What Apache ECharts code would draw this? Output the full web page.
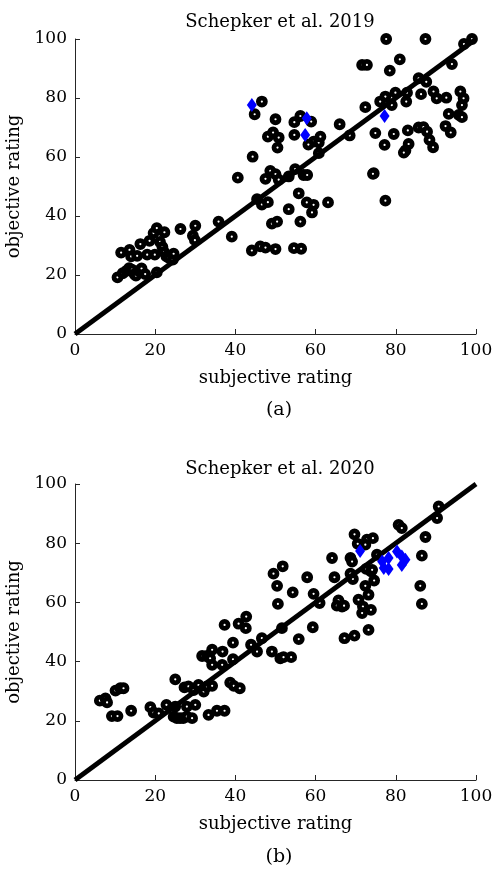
<!DOCTYPE html>
<html lang="en">

<head>
  <meta charset="UTF-8">
  <title>Schepker et al.</title>
  <script src="https://cdn.jsdelivr.net/npm/echarts@6/dist/echarts.min.js"></script>
  <style>
    body { margin: 0; background: #fff; }
  </style>
</head>

<body>
  <div id="main" style="width: 492px; height: 875px;"></div>
  <script>
    // Schepker et al. 2019: [subjective, objective]
    var ratings2019 = [
      [10.6, 19.2], [11.9, 20.6], [12.8, 21.4], [13.5, 22.3], [14.2, 21.8], [14.8, 20.3], [15.2, 19.8], [15.8, 21.4],
      [16.6, 22.2], [17.5, 20.3], [20.4, 20.9], [11.5, 27.6], [13.6, 28.5], [14, 26.3], [15.5, 26.5], [16.3, 30.5],
      [18, 26.9], [18.6, 31.6], [19.9, 26.9], [19.6, 34.2], [20.4, 35.9], [22.3, 34.5], [21.2, 31.2], [21.8, 29.5],
      [22.2, 27.8], [22.8, 26.3], [23.4, 25.8], [24.4, 25.2], [24.6, 27.2], [26.3, 35.6], [30, 36.7], [29.4, 33.3],
      [29.9, 31.8], [35.8, 38.1], [39.1, 33],
      [40.6, 53], [44.3, 60.1], [44.8, 74.5], [46.6, 78.8], [50, 72.8], [48.1, 66.9], [49.4, 68.3], [50.8, 66.6],
      [50.5, 63.2], [47.5, 52.6], [48.7, 55.3], [50, 54.2], [50.8, 52.3], [53.3, 53.4], [54.9, 55.9], [57, 53.9],
      [57.9, 53.9], [45.4, 45.7], [46.6, 43.9], [48.1, 44.7], [49.1, 37.4], [50.4, 38.1], [44.1, 28.3], [46.2, 29.7],
      [47.5, 29.3], [50, 28.8], [54.6, 29.1], [56.4, 28.9], [54.7, 71.8], [56.2, 73.9], [54.7, 67.5], [58.9, 72],
      [59.5, 65.2], [60.8, 64.9], [61.2, 66.9], [58.2, 64.2], [60.8, 61.3], [55.8, 47.7], [57.8, 44.6], [59.5, 43.8],
      [59.1, 41.2], [53.3, 42.3], [56.2, 38.1], [63.1, 44.6],
      [66, 71.1], [68.5, 67.3], [72.4, 76.9], [74.5, 54.5], [77.4, 45.2], [71.6, 91.2], [72.8, 91.2], [77.6, 100],
      [87.4, 100], [99, 100], [97, 98.3], [81, 93.1], [78.5, 89.3], [94, 91.5], [85.7, 86.7], [87.6, 85.5],
      [79.9, 81.8], [77.4, 80.5], [76.1, 78.8], [79, 77.6], [82.6, 78.8], [82.8, 81.8], [86.3, 81.3], [89.4, 82.2],
      [90.2, 79.9], [92.6, 80.1], [96.1, 82.2], [96.9, 79.9], [96.5, 77.6], [93.2, 74.6], [95.7, 74.3], [96.5, 73.5],
      [92.4, 70.5], [93.7, 68.3], [74.9, 68.1], [77.2, 64.1], [79.5, 67.8], [83, 69], [85.7, 70], [86.9, 70.1],
      [87.8, 68.6], [88.4, 65.8], [89.3, 63.3], [83.2, 64.4], [82.4, 62.2], [82, 61.5], [74.3, 54.3]
    ];
    var diamonds2019 = [[44.1, 77.6], [57.8, 73.1], [57.4, 67.5], [77.2, 73.9]];

    // Schepker et al. 2020
    var ratings2020 = [
      [6.2, 26.8], [7.6, 27.6], [8, 26.2], [9.2, 21.6], [10.6, 21.6], [10.1, 30.2], [11.3, 31], [12.1, 31],
      [14, 23.4], [18.8, 24.6], [19.6, 22.8], [20.9, 22.5], [22.8, 25.4], [25, 34], [25, 24.8], [24.6, 21.4],
      [25.4, 20.9], [26.2, 20.9], [27, 20.9], [27.9, 21.4], [29.2, 20.9], [27.9, 24.8], [30, 25.4], [27.3, 31.3],
      [28.3, 31.6], [29.6, 30.4], [30.8, 32.1], [32.1, 29.9], [31.7, 41.9], [32.9, 41.9], [34.2, 44], [33.7, 41.1],
      [34.2, 38.9], [32.9, 31.6], [34.2, 31.8], [33.3, 22], [35.4, 23.4], [37.3, 23.4], [36.7, 38.9], [36.8, 43.4],
      [37.3, 52.4], [38.7, 32.9], [39.6, 31.8], [41.1, 31], [39.4, 46.4], [39.4, 40.8], [40.8, 52.8], [42.7, 55.2],
      [42.6, 51.3], [43.9, 45.7], [45.4, 43.4], [46.6, 47.9], [49.1, 43.4], [49.5, 69.7], [50.4, 65.6], [50.6, 59.5],
      [51.2, 41.1], [51.6, 51.3], [51.8, 72.2], [52, 41.5], [53.9, 41.5], [54.3, 63.4], [55.8, 47.6], [57.9, 68.5],
      [59.5, 62.9], [61, 59.8], [59.3, 51.6], [64.1, 75], [64.7, 68.5], [65.7, 60.7], [65.3, 58.9], [66.6, 58.6],
      [67.1, 58.9], [67.2, 47.9], [69.7, 48.8], [68.7, 75], [69.1, 73.8], [68.7, 69.7], [69.3, 67.9], [69.7, 83],
      [70.5, 79.8], [72.8, 81.2], [74.3, 81.7], [72.4, 79.5], [75.3, 76.1], [72.6, 71.3], [73.8, 70.5], [74.1, 71],
      [74.6, 67.4], [72.4, 65.6], [73.2, 62.6], [70.7, 60.9], [71.8, 58.6], [71.6, 56.4], [73.8, 57.5], [73.2, 50.7],
      [80.7, 86.2], [81.5, 85.1], [87.4, 82.1], [86.5, 75.8], [86.1, 65.6], [86.5, 59.5], [90.7, 92.4], [90.3, 88.5]
    ];
    var diamonds2020 = [
      [71.1, 77.4], [76.6, 73.8], [78.2, 75], [77, 71.6], [78.2, 71.3], [80.3, 77.2], [81.5, 75.5], [82.4, 74.4], [81.5, 72.6]
    ];

    var diagonal = [[0, 0], [100, 100]];
    var panelTitles = ['Schepker et al. 2019', 'Schepker et al. 2020'];
    var panelTags = ['(a)', '(b)'];

    var font = 'DejaVu Serif';
    var myChart = echarts.init(document.getElementById('main'));

    function axis(i, name, isX) {
      return {
        type: 'value',
        gridIndex: i,
        min: 0,
        max: 100,
        interval: 20,
        name: name,
        nameLocation: 'middle',
        nameGap: isX ? 35 : 42,
        nameTextStyle: { fontFamily: font, fontSize: 18, color: '#000' },
        axisLine: { show: true, lineStyle: { color: '#262626', width: 1 } },
        axisTick: { show: true, inside: true, length: 5, lineStyle: { color: '#262626' } },
        axisLabel: { fontFamily: font, fontSize: 17, color: '#000', margin: 8 },
        splitLine: { show: false }
      };
    }

    function panel(i, circles, diamonds) {
      return [
        {
          type: 'scatter', xAxisIndex: i, yAxisIndex: i, data: circles,
          symbol: 'circle', symbolSize: 7, clip: false,
          itemStyle: { color: '#fff', borderColor: '#000', borderWidth: 4.8, opacity: 1 },
          z: 2
        },
        {
          type: 'line', xAxisIndex: i, yAxisIndex: i, data: diagonal,
          symbol: 'none', lineStyle: { color: '#000', width: 4.8 }, z: 3
        },
        {
          type: 'scatter', xAxisIndex: i, yAxisIndex: i, data: diamonds,
          symbol: 'diamond', symbolSize: [10, 14], clip: false,
          itemStyle: { color: '#0000ff', opacity: 1 }, z: 4
        }
      ];
    }

    var titleStyle = { fontFamily: font, fontSize: 18, fontWeight: 'normal', color: '#000' };
    var tagStyle = { fontFamily: font, fontSize: 19, fontWeight: 'normal', color: '#000' };

    var option = {
      animation: false,
      title: [
        { text: panelTitles[0], left: 275, top: 8, textAlign: 'center', textStyle: titleStyle },
        { text: panelTags[0], left: 274, top: 396, textAlign: 'center', textStyle: tagStyle },
        { text: panelTitles[1], left: 275, top: 455, textAlign: 'center', textStyle: titleStyle },
        { text: panelTags[1], left: 274, top: 843, textAlign: 'center', textStyle: tagStyle }
      ],
      grid: [
        { left: 75, top: 39, width: 401, height: 295, containLabel: false, outerBoundsMode: 'none' },
        { left: 75, top: 484, width: 401, height: 296, containLabel: false, outerBoundsMode: 'none' }
      ],
      xAxis: [axis(0, 'subjective rating', true), axis(1, 'subjective rating', true)],
      yAxis: [axis(0, 'objective rating', false), axis(1, 'objective rating', false)],
      series: panel(0, ratings2019, diamonds2019).concat(panel(1, ratings2020, diamonds2020))
    };

    myChart.setOption(option);
  </script>
</body>

</html>
